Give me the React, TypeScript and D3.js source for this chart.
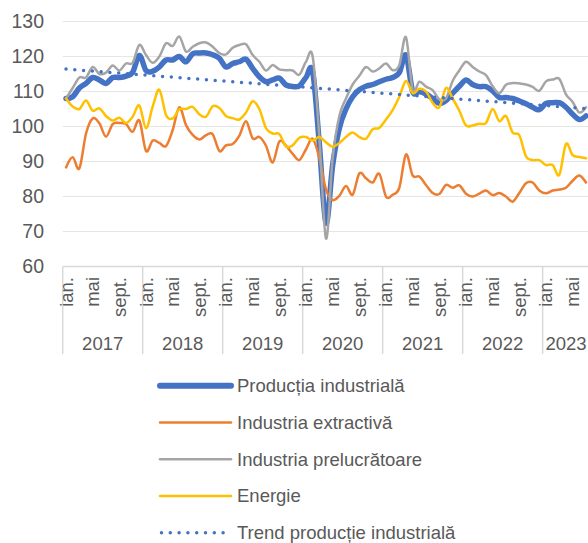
import React from "react";
import * as d3 from "d3";

// chart values (index 2017 = 100 base, monthly)
const years = ["2017", "2018", "2019", "2020", "2021", "2022", "2023"];
const monthsInYear = [12, 12, 12, 12, 12, 12, 7];
const monthNames = ["ian.", "feb.", "mar.", "apr.", "mai", "iun.", "iul.", "aug.", "sept.", "oct.", "nov.", "dec."];
const shownMonths = ["ian.", "mai", "sept."];
const yTicks = [60, 70, 80, 90, 100, 110, 120, 130];

const productie = [
  108, 108.5, 111, 112.3, 114, 113.3, 112.3, 114, 114, 114.4, 115.5, 120.3,
  116, 115.8, 117, 119, 119, 120, 118.5, 120.8, 121, 121, 120.5, 119.5,
  117, 118, 118.5, 119.2, 116.6, 114.2, 112.8, 113.3, 113.8, 111.9, 111.4, 111.6,
  114, 115.7, 95, 72.4, 89, 99.5, 105, 108.5, 110.5, 111.5, 112, 112.8,
  113.5, 114, 115.4, 120.4, 110, 110, 109.3, 108, 106.6, 107.4, 109.5, 111.5,
  113.3, 112, 111.4, 111.4, 110.2, 108.3, 108.3, 108, 107.3, 106.5, 105.5, 104.8,
  106.6, 106.8, 106.8, 105.5, 103.5, 102, 103,
];
const extractiva = [
  88.3, 91.2, 88, 98, 102.3, 100.9, 97.1, 100.7, 101, 100.7, 98.5, 101.7,
  93, 96, 95.3, 94.4, 99, 105.5, 100.4, 97.6, 96.3, 97.5, 97.8, 93,
  94.6, 95, 97.4, 101.5, 96.6, 97, 94.5, 89.7, 95.7, 94.5, 92.2, 90.4,
  93.5, 96.5, 91, 82, 79, 80.2, 83, 80.5, 86.6, 85.2, 84, 86.5,
  80, 80.5, 82.5, 92, 86, 85.7, 83.3, 81, 80.7, 83.3, 82.5, 83.2,
  80.8, 80, 80.8, 81.7, 80.4, 81, 80, 78.5, 81, 83.8, 84, 81.7,
  80.9, 81.7, 82, 82.5, 84.5, 86, 84,
];
const prelucratoare = [
  108, 111, 114, 114, 117, 115, 115.4, 117.4, 116, 118, 118.2, 123.3,
  120.4, 118.2, 120, 123.8, 123, 125.7, 121.4, 122.8, 123.8, 124, 122.8, 121,
  120.6, 122.5, 123.3, 123.5, 120.4, 118.5, 116, 117.6, 116.3, 116.1, 116, 114.8,
  118.5, 120, 97, 68, 91, 103, 108, 112, 114.5, 117, 115.7, 116.6,
  118, 116.1, 117.5, 125.5, 110.5, 112.8, 111.4, 110.4, 107.8, 108, 113, 116,
  118.5, 117, 115.7, 114.7, 111.5, 109.5, 111.9, 112.4, 112.3, 112, 111.3, 110.2,
  112.9, 113.4, 113.6, 109.2, 107, 104, 105.5,
];
const energie = [
  108, 105.7, 105, 107.4, 104.5, 105.2, 103, 101.7, 102.5, 101, 102.8, 106,
  99.5, 105.7, 110.5, 103.3, 102.3, 104.9, 105, 105.6, 103.5, 102.8, 105.8, 105.3,
  103, 102.4, 102, 104, 107.2, 105, 99.5, 98, 97.8, 94.3, 94.6, 96.8,
  97, 96, 97, 95.5, 94.2, 95.3, 97, 98.3, 97, 96.5, 99.2, 99.6,
  102, 104.7, 108.5, 113, 109.5, 110.8, 110, 106.8, 105.5, 111, 108, 104.5,
  100.3, 100.3, 100.8, 101, 105, 101.5, 103, 98.3, 97.5, 91.5, 90.4, 90.4,
  89, 89, 86.2, 95, 91.8, 91.3, 90.9,
];
// linear trend of industrial production, first and last month
const trendEnds = [116.4, 105.1];

const categories = years.flatMap((yr, k) =>
  monthNames.slice(0, monthsInYear[k]).map((m) => m + " " + yr)
);

const series = [
  { name: "Producția industrială", values: productie, color: "#4472C4", width: 5.5 },
  { name: "Industria extractivă", values: extractiva, color: "#ED7D31", width: 2.5 },
  { name: "Industria prelucrătoare", values: prelucratoare, color: "#A5A5A5", width: 2.5 },
  { name: "Energie", values: energie, color: "#FFC000", width: 2.5 },
];

const FONT = "'Liberation Sans', Arial, sans-serif";
const TXT = "#595959";

export default function App() {
  const width = 588;
  const height = 543;
  const margins = { left: 62.7, right: -1.3, top: 21.5, bottom: 276.5 };
  const plotBottom = height - margins.bottom;

  const x = d3
    .scaleBand<number>()
    .domain(d3.range(categories.length))
    .range([margins.left, width - margins.right]);
  const cx = (i: number) => (x(i) as number) + x.bandwidth() / 2;
  const y = d3.scaleLinear().domain([60, 130]).range([plotBottom, margins.top]);

  const line = d3
    .line<number>()
    .x((_, i) => cx(i))
    .y((v) => y(v))
    .curve(d3.curveCardinal.tension(0));

  // year bands
  let start = 0;
  const yearBands = years.map((yr, k) => {
    const s = start;
    start += monthsInYear[k];
    return { yr, s, e: start };
  });

  const legendRows = [...series.map((s) => s.name), "Trend producție industrială"];

  return (
    <svg width={width} height={height} style={{ position: "absolute", left: 0, top: 0, background: "#fff" }}>
      {/* gridlines */}
      {yTicks.slice(1).map((t) => (
        <line key={t} x1={margins.left} x2={width} y1={y(t)} y2={y(t)} stroke="#e6e6e6" strokeWidth={1} />
      ))}
      {yTicks.map((t) => (
        <text key={"l" + t} x={44} y={y(t)} dy="0.35em" textAnchor="end" fontFamily={FONT} fontSize={19.5} fill={TXT}>
          {t}
        </text>
      ))}
      {/* category axis */}
      <line x1={margins.left} x2={width} y1={plotBottom} y2={plotBottom} stroke="#d9d9d9" strokeWidth={1.5} />
      {yearBands.map((b) => (
        <g key={b.yr}>
          <line x1={x(b.s)} x2={x(b.s)} y1={plotBottom} y2={354} stroke="#d9d9d9" strokeWidth={1.5} />
          <text
            x={((x(b.s) as number) + (x(b.e - 1) as number) + x.bandwidth()) / 2}
            y={349.5}
            textAnchor="middle"
            fontFamily={FONT}
            fontSize={18.5}
            fill={TXT}
          >
            {b.yr}
          </text>
        </g>
      ))}
      {categories.map((c, i) => {
        const m = c.split(" ")[0];
        if (!shownMonths.includes(m)) return null;
        return (
          <text
            key={c}
            transform={`translate(${cx(i)},277) rotate(-90)`}
            dy="0.35em"
            textAnchor="end"
            fontFamily={FONT}
            fontSize={18.5}
            fill={TXT}
          >
            {m}
          </text>
        );
      })}
      {/* series */}
      {series.map((s) => (
        <path
          key={s.name}
          d={line(s.values) || ""}
          fill="none"
          stroke={s.color}
          strokeWidth={s.width}
          strokeLinejoin="round"
          strokeLinecap="round"
        />
      ))}
      <line
        x1={cx(0)}
        x2={cx(categories.length - 1)}
        y1={y(trendEnds[0])}
        y2={y(trendEnds[1])}
        stroke="#4472C4"
        strokeWidth={3.5}
        strokeDasharray="0 8.8"
        strokeLinecap="round"
      />
      {/* legend */}
      {legendRows.map((name, k) => {
        const ly = 385.7 + k * 36.75;
        const s = series[k];
        return (
          <g key={name}>
            {s ? (
              <line x1={160} x2={231} y1={ly} y2={ly} stroke={s.color} strokeWidth={s.width + (k === 0 ? 0.5 : 0)} strokeLinecap="round" />
            ) : (
              <line x1={161.5} x2={231} y1={ly} y2={ly} stroke="#4472C4" strokeWidth={3.5} strokeDasharray="0 8.8" strokeLinecap="round" />
            )}
            <text x={237} y={ly} dy="0.35em" fontFamily={FONT} fontSize={18.5} fill={TXT}>
              {name}
            </text>
          </g>
        );
      })}
    </svg>
  );
}
